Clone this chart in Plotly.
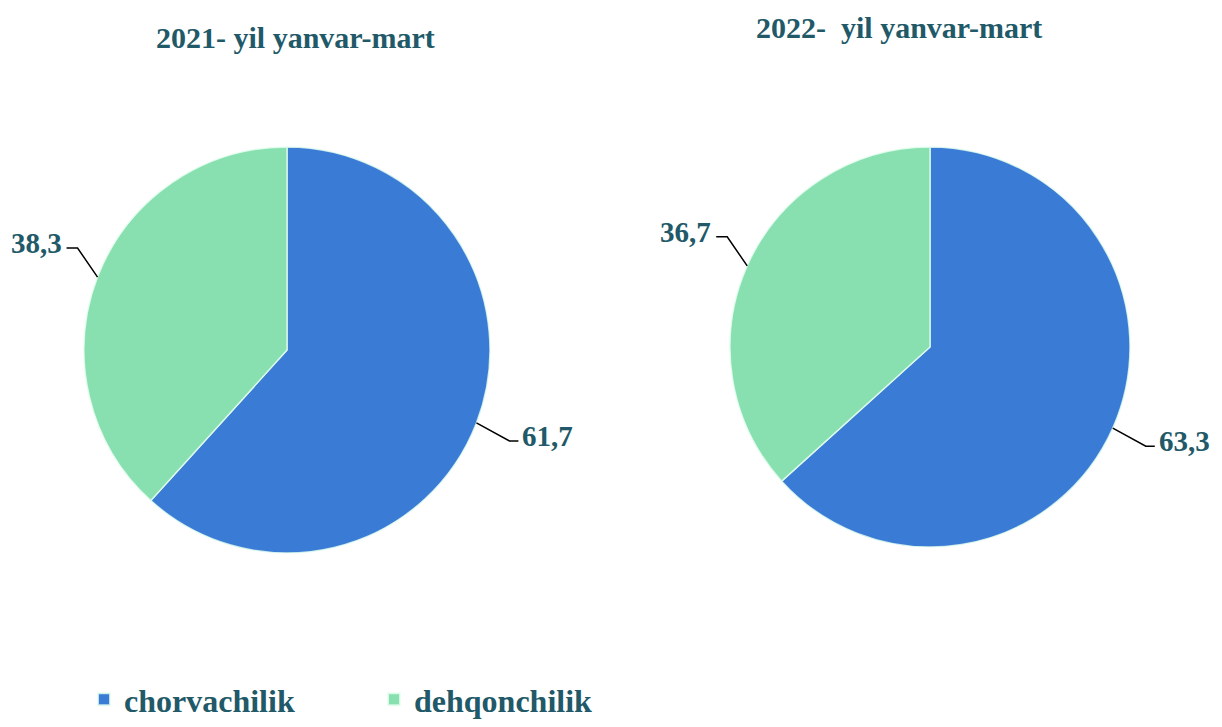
import math
import plotly.graph_objects as go

# data
categories = ['chorvachilik', 'dehqonchilik']
titles = ['2021- yil yanvar-mart', '2022-  yil yanvar-mart']
values_2021 = [61.7, 38.3]
values_2022 = [63.3, 36.7]
colors = ['#3a7bd5', '#88dfb0']

# the html page has an 8px body margin, so work in screen pixels and shift
OFF = 8
W, H = 1222 - OFF, 727 - OFF
TEXT_COLOR = '#215968'
FONT = 'Liberation Serif'

# pie geometry in screen pixels: centre x, centre y, radius
pies = [
    dict(values=values_2021, title=titles[0], cx=287, cy=350, r=203, tx=295, ty=38),
    dict(values=values_2022, title=titles[1], cx=930, cy=347, r=200, tx=899, ty=27),
]


def px(x):
    return (x - OFF) / W


def py(y):
    return 1 - (y - OFF) / H


fig = go.Figure()
shapes = []
annotations = []

for i, p in enumerate(pies):
    cx, cy, r = p['cx'], p['cy'], p['r']
    fig.add_trace(go.Pie(
        labels=categories,
        values=p['values'],
        sort=False,
        direction='clockwise',
        rotation=0,
        textinfo='none',
        hoverinfo='label+value',
        marker=dict(colors=colors, line=dict(color='rgba(230,255,240,0.8)', width=1.5)),
        domain=dict(x=[px(cx - r), px(cx + r)], y=[py(cy + r), py(cy - r)]),
        showlegend=(i == 0),
    ))

    annotations.append(dict(
        x=px(p['tx']), y=py(p['ty']), xref='paper', yref='paper',
        text='<b>%s</b>' % p['title'], showarrow=False,
        font=dict(family=FONT, size=30, color=TEXT_COLOR),
        xanchor='center', yanchor='middle',
    ))

    # leader lines and value labels, positioned from the slice mid angles
    total = sum(p['values'])
    start = 0.0
    for v in p['values']:
        mid = (start + v / 2) / total * 2 * math.pi
        start += v
        rx = cx + r * math.sin(mid)
        ry = cy - r * math.cos(mid)
        if math.sin(mid) >= 0:
            ex, ey = rx + 33, ry + 18
            hx = ex + 9
            tx, anchor = hx + 2, 'left'
        else:
            ex, ey = rx - 20, ry - 29
            hx = ex - 11
            tx, anchor = hx - 3, 'right'
        path = 'M %f %f L %f %f L %f %f' % (px(rx), py(ry), px(ex), py(ey), px(hx), py(ey))
        shapes.append(dict(type='path', xref='paper', yref='paper', path=path,
                           line=dict(color='black', width=1.5)))
        annotations.append(dict(
            x=px(tx), y=py(ey - 5), xref='paper', yref='paper',
            text='<b>%s</b>' % ('%.1f' % v).replace('.', ','), showarrow=False,
            font=dict(family=FONT, size=29, color=TEXT_COLOR),
            xanchor=anchor, yanchor='middle',
        ))

fig.update_layout(
    width=W, height=H,
    margin=dict(l=0, r=0, t=0, b=0),
    paper_bgcolor='white',
    plot_bgcolor='white',
    shapes=shapes,
    annotations=annotations,
    legend=dict(
        orientation='h', x=px(84), y=0, xanchor='left', yanchor='bottom',
        font=dict(family=FONT, size=32, color=TEXT_COLOR, weight='bold'),
        entrywidth=245, itemsizing='constant',
    ),
)

fig.write_html('out.html')
